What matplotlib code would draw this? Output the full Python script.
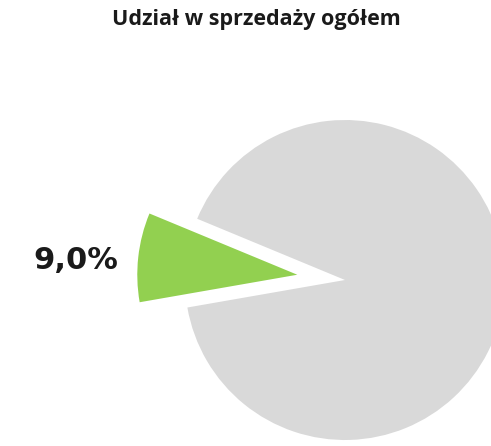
import matplotlib.pyplot as plt

# share of total sales
labels = ['udział', 'reszta']
values = [9.0, 91.0]
colors = ['#92D050', '#D9D9D9']

title = 'Udział w sprzedaży ogółem'


def pct_label(p):
    # only the highlighted slice gets a label
    if p < 50:
        return f'{p:.1f}%'.replace('.', ',')
    return ''


fig = plt.figure(figsize=(4.91, 4.46), dpi=100)
ax = fig.add_axes([0, 0, 1, 1])

# axes in pixel units, so radius and explode are in pixels too
wedges, texts, autotexts = ax.pie(
    values, colors=colors, explode=[48, 0], startangle=157.5,
    counterclock=True, radius=160, center=(345, 166),
    autopct=pct_label, pctdistance=1.39,
    wedgeprops={'linewidth': 0},
    textprops={'fontsize': 22, 'fontweight': 'bold', 'color': '#1a1a1a',
               'family': 'DejaVu Sans'},
)
# label sits a bit lower than the slice's mid line
lx, ly = autotexts[0].get_position()
autotexts[0].set_position((lx, ly - 10))

ax.set_xlim(0, 491)
ax.set_ylim(0, 446)
ax.set_aspect('equal')
ax.axis('off')

fig.text(0.522, 0.957, title, ha='center', va='center', fontsize=15.5,
         fontweight='bold', family='Open Sans', color='#1a1a1a')

fig.savefig('out.png', dpi=100)
